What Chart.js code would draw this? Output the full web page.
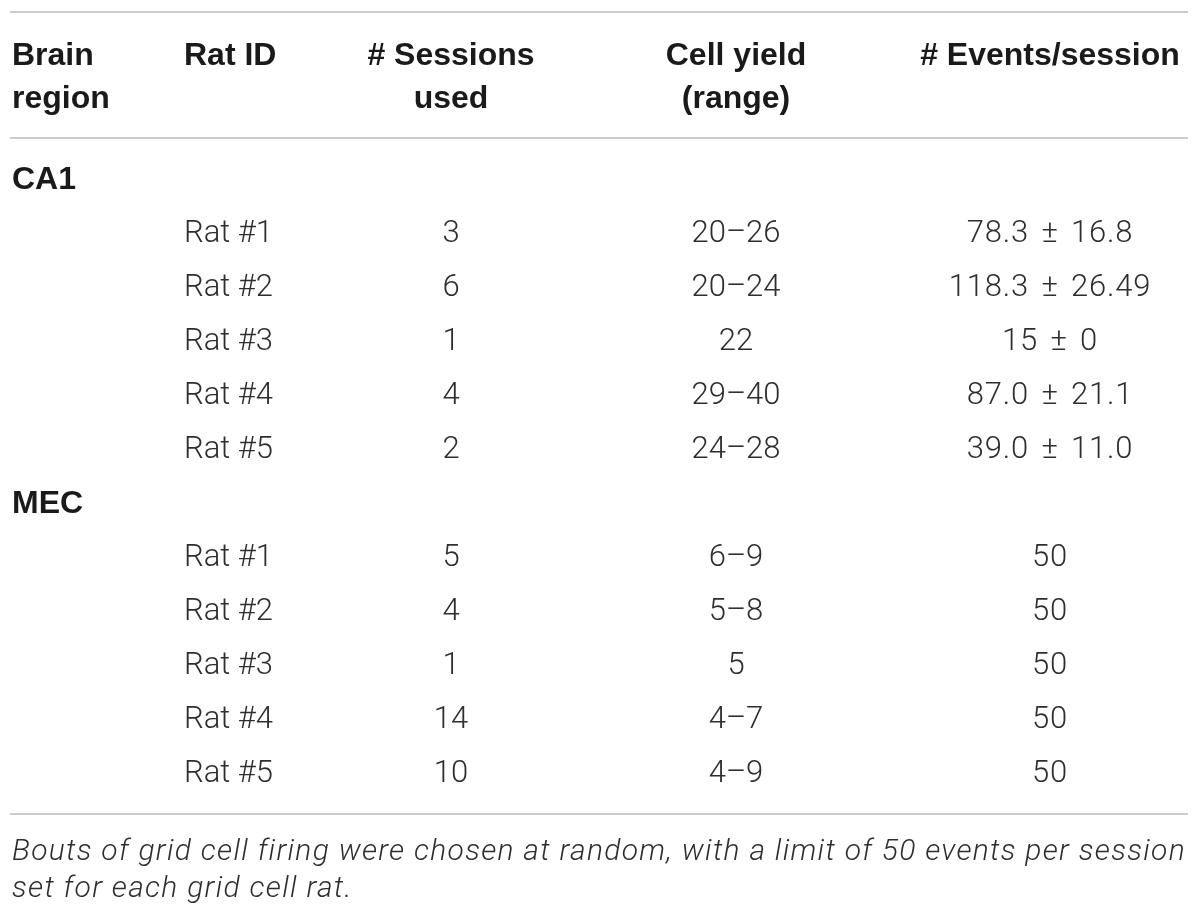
<!DOCTYPE html>
<html>
<head>
<meta charset="utf-8">
<title>Sessions table</title>
<script src="https://cdn.jsdelivr.net/npm/chart.js@4.4.0/dist/chart.umd.min.js"></script>
<style>
  html, body { margin: 0; padding: 0; background: #fff; }
  canvas { display: block; }
</style>
</head>
<body>
<canvas id="tabela" width="1200" height="920"></canvas>
<script>
// column headers (two lines each)
const colHeaders = [
    ['Brain', 'region'],
    ['Rat ID'],
    ['# Sessions', 'used'],
    ['Cell yield', '(range)'],
    ['# Events/session']
]

const regions = ['CA1', 'MEC']
const ratIds = ['Rat #1', 'Rat #2', 'Rat #3', 'Rat #4', 'Rat #5']

const sessionsCA1 = [3, 6, 1, 4, 2]
const sessionsMEC = [5, 4, 1, 14, 10]

const yieldCA1 = ['20–26', '20–24', '22', '29–40', '24–28']
const yieldMEC = ['6–9', '5–8', '5', '4–7', '4–9']

const eventsCA1 = ['78.3 ± 16.8', '118.3 ± 26.49', '15 ± 0', '87.0 ± 21.1', '39.0 ± 11.0']
const eventsMEC = ['50', '50', '50', '50', '50']

const footnote = [
    'Bouts of grid cell firing were chosen at random, with a limit of 50 events per session',
    'set for each grid cell rat.'
]

// montando as linhas da tabela a partir dos arrays
const linhas = []
const blocos = [
    {region: regions[0], sessions: sessionsCA1, yields: yieldCA1, events: eventsCA1},
    {region: regions[1], sessions: sessionsMEC, yields: yieldMEC, events: eventsMEC}
]
for (const b of blocos) {
    linhas.push({cells: [b.region, '', '', '', ''], bold: true})
    for (let i = 0; i < ratIds.length; i++) {
        linhas.push({cells: ['', ratIds[i], String(b.sessions[i]), b.yields[i], b.events[i]], bold: false})
    }
}
const rowLabels = linhas.map((l, i) => l.cells[0] || l.cells[1] + ' ' + i)

// layout of the columns: x anchor and alignment
const colX = [12, 184, 451, 736, 1050]
const colAlign = ['left', 'left', 'center', 'center', 'center']

const boldFont = 'bold 32px "Liberation Sans", Arial, sans-serif'
const bodyFont = '300 31px Roboto, "Liberation Sans", sans-serif'
const italicFont = 'italic 300 30px Roboto, "Liberation Sans", sans-serif'

const desenhaTabela = {
    id: 'desenhaTabela',
    afterDraw(chart) {
        const ctx = chart.ctx
        const yScale = chart.scales.y
        const area = chart.chartArea
        ctx.save()

        // horizontal rules
        ctx.strokeStyle = '#cccccc'
        ctx.lineWidth = 2
        const rules = [area.top - 141, area.top - 15, area.bottom + 13]
        for (const ry of rules) {
            ctx.beginPath()
            ctx.moveTo(10, ry)
            ctx.lineTo(1188, ry)
            ctx.stroke()
        }

        // header
        ctx.fillStyle = '#1a1a1a'
        ctx.font = boldFont
        ctx.textBaseline = 'middle'
        colHeaders.forEach((h, c) => {
            ctx.textAlign = colAlign[c]
            h.forEach((txt, k) => {
                ctx.fillText(txt, colX[c], area.top - 97 + k * 43)
            })
        })

        // body rows placed by the category scale
        linhas.forEach((l, i) => {
            const y = yScale.getPixelForValue(i)
            l.cells.forEach((txt, c) => {
                if (!txt) return
                ctx.textAlign = colAlign[c]
                ctx.wordSpacing = '0px'
                ctx.letterSpacing = '0px'
                if (l.bold) {
                    ctx.font = boldFont
                    ctx.fillStyle = '#1a1a1a'
                } else {
                    ctx.font = bodyFont
                    ctx.fillStyle = '#2e2e2e'
                    if (c === 4) {
                        ctx.wordSpacing = '4px'
                        ctx.letterSpacing = '0.8px'
                    }
                }
                ctx.fillText(txt, colX[c], y)
            })
        })
        ctx.wordSpacing = '0px'

        // footnote
        ctx.font = italicFont
        ctx.fillStyle = '#2e2e2e'
        ctx.textAlign = 'left'
        ctx.letterSpacing = '1.3px'
        footnote.forEach((txt, k) => {
            ctx.fillText(txt, 12, area.bottom + 51 + k * 37)
        })
        ctx.letterSpacing = '0px'
        ctx.restore()
    }
}

new Chart(document.getElementById('tabela'), {
    type: 'bar',
    data: {
        labels: rowLabels,
        datasets: [{data: []}]
    },
    options: {
        indexAxis: 'y',
        responsive: false,
        animation: false,
        devicePixelRatio: 1,
        layout: {padding: {top: 153, bottom: 119, left: 0, right: 0}},
        plugins: {legend: {display: false}, tooltip: {enabled: false}},
        scales: {
            x: {display: false},
            y: {display: false}
        }
    },
    plugins: [desenhaTabela]
})
</script>
</body>
</html>
